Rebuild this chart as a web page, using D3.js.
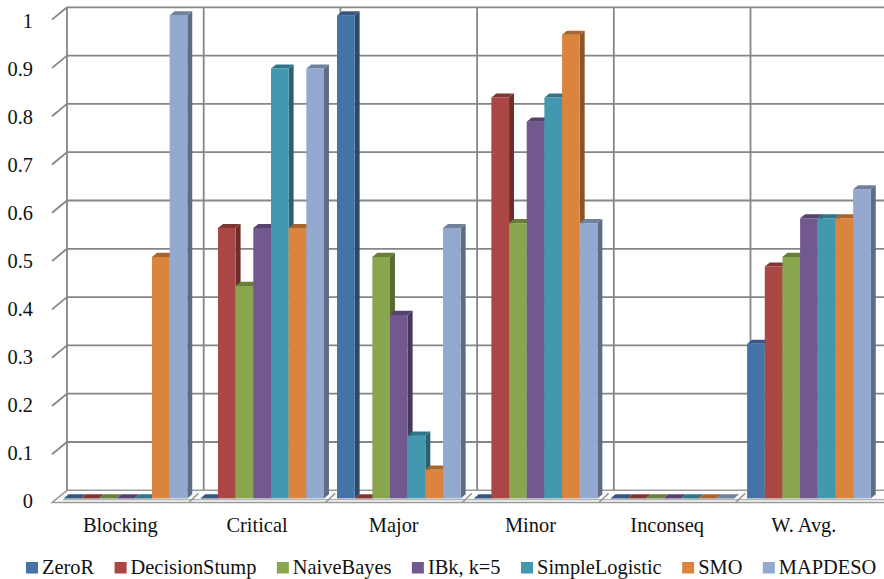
<!DOCTYPE html>
<html>
<head>
<meta charset="utf-8">
<script src="https://cdn.jsdelivr.net/npm/d3@7"></script>
<style>
  html, body { margin: 0; padding: 0; background: #ffffff; }
  svg { display: block; }
</style>
</head>
<body>
<svg id="chart" width="884" height="579"></svg>
<script>
// Categories along the horizontal axis
const categories = ["Blocking", "Critical", "Major", "Minor", "Inconseq", "W. Avg."];

// Classifiers (series), in legend order
const seriesNames = ["ZeroR", "DecisionStump", "NaiveBayes", "IBk, k=5", "SimpleLogistic", "SMO", "MAPDESO"];

// One value per category for each classifier
const zeroR          = [0,    0,    1,    0,    0, 0.32];
const decisionStump  = [0,    0.56, 0,    0.83, 0, 0.48];
const naiveBayes     = [0,    0.44, 0.5,  0.57, 0, 0.50];
const ibk5           = [0,    0.56, 0.38, 0.78, 0, 0.58];
const simpleLogistic = [0,    0.89, 0.13, 0.83, 0, 0.58];
const smo            = [0.5,  0.56, 0.06, 0.96, 0, 0.58];
const mapdeso        = [1,    0.89, 0.56, 0.57, 0, 0.64];

const seriesValues = [zeroR, decisionStump, naiveBayes, ibk5, simpleLogistic, smo, mapdeso];

// Value axis ticks
const yTicks = [0, 0.1, 0.2, 0.3, 0.4, 0.5, 0.6, 0.7, 0.8, 0.9, 1];
const yTickLabels = ["0", "0.1", "0.2", "0.3", "0.4", "0.5", "0.6", "0.7", "0.8", "0.9", "1"];

const colors = ["#4572A7", "#AA4643", "#89A54E", "#71588F", "#4198AF", "#DB843D", "#93A9CF"];

const svg = d3.select("#chart");
const textColor = "#111111";
const FONT = '"Liberation Serif"';
const FONT_SIZE = 20.4;

// Oblique projection: moving from the front plane to the back wall
const DEPTH_X = 15, DEPTH_Y = -12.3;
const depth = f => [DEPTH_X * f, DEPTH_Y * f];

const catW = 136.7;
const frontLeft = 52;
const x0 = d3.scaleBand().domain(categories).range([frontLeft, frontLeft + catW * categories.length]).padding(0);
const x1 = d3.scaleBand().domain(seriesNames).range([0, catW]).paddingInner(0).paddingOuter(0.368);

// Value scale on the front plane of the plot box
const y = d3.scaleLinear().domain([0, 1]).range([502.6, 19.6]);
// Tick labels sit slightly differently from the tick lines
const yLabel = d3.scaleLinear().domain([0, 1]).range([508.3, 28]);

const gridColor = "#868686";
const [bx, by] = depth(1);
const backLeft = frontLeft + bx;
const backRight = 884 + 20;

// Floor slab
const floorY = y(0);
const floor = svg.append("g");
floor.append("path")
  .attr("d", `M${frontLeft},${floorY} L${backLeft},${floorY + by} L${backRight},${floorY + by} L${backRight - bx},${floorY} Z`)
  .attr("fill", "#fbfbfb")
  .attr("stroke", "#9a9a9a")
  .attr("stroke-width", 1.5);
floor.append("line")
  .attr("x1", frontLeft + 11).attr("x2", backRight)
  .attr("y1", floorY - 3).attr("y2", floorY - 3)
  .attr("stroke", "#b0b0b0").attr("stroke-width", 1.2);

// Category dividers on the floor
floor.selectAll("line.cat-tick")
  .data(categories.slice(1))
  .join("line")
  .attr("class", "cat-tick")
  .attr("x1", d => x0(d)).attr("y1", floorY)
  .attr("x2", d => x0(d) + bx * 0.65).attr("y2", floorY + by * 0.75)
  .attr("stroke", "#9a9a9a").attr("stroke-width", 1.5);

// Back wall: horizontal gridlines
const grid = svg.append("g");
grid.selectAll("line.hgrid")
  .data(yTicks.filter(d => d > 0))
  .join("line")
  .attr("class", "hgrid")
  .attr("x1", backLeft).attr("x2", backRight)
  .attr("y1", d => y(d) + by).attr("y2", d => y(d) + by)
  .attr("stroke", gridColor).attr("stroke-width", 1.8);

// Back wall: vertical category separators
grid.selectAll("line.vgrid")
  .data(categories)
  .join("line")
  .attr("class", "vgrid")
  .attr("x1", d => x0(d) + bx).attr("x2", d => x0(d) + bx)
  .attr("y1", y(1) + by).attr("y2", y(0) + by)
  .attr("stroke", gridColor).attr("stroke-width", 1.8);

// Side wall tick lines (front to back)
grid.selectAll("line.ytick")
  .data(yTicks.filter(d => d > 0))
  .join("line")
  .attr("class", "ytick")
  .attr("x1", frontLeft).attr("y1", d => y(d))
  .attr("x2", backLeft).attr("y2", d => y(d) + by)
  .attr("stroke", gridColor).attr("stroke-width", 1.8);

// Value axis labels
svg.append("g").selectAll("text")
  .data(yTicks)
  .join("text")
  .attr("x", 33)
  .attr("y", d => yLabel(d))
  .attr("text-anchor", "end")
  .attr("font-size", FONT_SIZE)
  .style("font-family", FONT)
  .attr("fill", textColor)
  .text((d, i) => yTickLabels[i]);

// Bars: front, right side and top faces
const F1 = 0.34, F2 = 0.67;
const [fx, fy] = depth(F1);
const [dx, dy] = [DEPTH_X * (F2 - F1), DEPTH_Y * (F2 - F1)];
const barW = x1.bandwidth();

const bars = [];
categories.forEach((cat, ci) => {
  seriesNames.forEach((s, si) => {
    bars.push({ cat, s, si, v: seriesValues[si][ci] });
  });
});

const barG = svg.append("g")
  .selectAll("g.bar")
  .data(bars)
  .join("g")
  .attr("class", "bar");

barG.each(function(d) {
  const g = d3.select(this);
  const c = d3.color(colors[d.si]);
  const left = x0(d.cat) + x1(d.s) + fx;
  const right = left + barW;
  const top = y(d.v) + fy;
  const bottom = y(0) + fy;
  // right side face
  g.append("path")
    .attr("d", `M${right},${top} L${right + dx},${top + dy} L${right + dx},${bottom + dy} L${right},${bottom} Z`)
    .attr("fill", c.darker(1.25).formatHex());
  // front face
  g.append("rect")
    .attr("x", left).attr("y", top)
    .attr("width", barW).attr("height", Math.max(0, bottom - top))
    .attr("fill", c.formatHex());
  // top face
  g.append("path")
    .attr("d", `M${left},${top} L${right},${top} L${right + dx},${top + dy} L${left + dx},${top + dy} Z`)
    .attr("fill", c.darker(0.75).formatHex());
});

// Category labels
svg.append("g").selectAll("text")
  .data(categories)
  .join("text")
  .attr("x", d => x0(d) + x0.bandwidth() / 2)
  .attr("y", 531.5)
  .attr("text-anchor", "middle")
  .attr("font-size", FONT_SIZE)
  .style("font-family", FONT)
  .attr("fill", textColor)
  .text(d => d);

// Legend
const legend = svg.append("g");
let lx = 26;
seriesNames.forEach((name, i) => {
  legend.append("rect")
    .attr("x", lx).attr("y", 562)
    .attr("width", 12).attr("height", 11.5)
    .attr("fill", colors[i]);
  const t = legend.append("text")
    .attr("x", lx + 16)
    .attr("y", 573.5)
    .attr("font-size", FONT_SIZE)
    .style("font-family", FONT)
    .attr("fill", textColor)
    .text(name);
  const w = t.node().getComputedTextLength();
  lx += 16 + w + 20.5;
});
</script>
</body>
</html>
